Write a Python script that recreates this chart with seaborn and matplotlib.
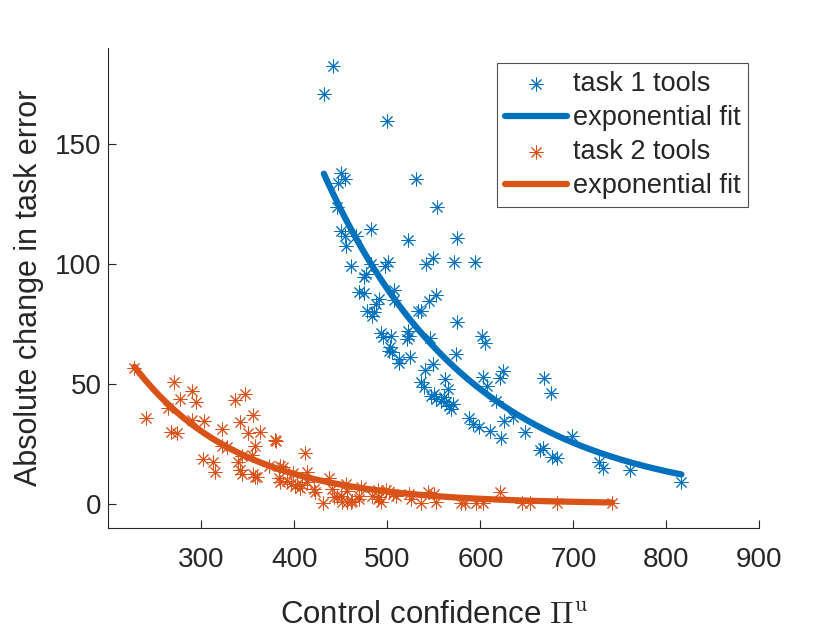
import numpy as np
import pandas as pd
import matplotlib
matplotlib.use("Agg")
import matplotlib.pyplot as plt
import seaborn as sns

# task 1 tools (blue)
task1_conf = [441.4, 431.7, 499.1, 449.7, 454.1, 446.8, 531.1, 553.5, 446.2, 450.5,
              454.1, 482.2, 465.9, 521.8, 575.1, 455.1, 460.5, 476.8, 474.9, 482.2,
              500.2, 497.6, 541.6, 548.9, 571.9, 594.6, 469.5, 474.9, 491.1, 487.6,
              507.4, 507.4, 544.5, 552.4, 536.2, 478.6, 484.0, 485.7, 533.3, 575.1,
              493.0, 495.5, 503.8, 522.5, 521.1, 523.6, 602.2, 605.4, 503.0, 502.0,
              504.9, 546.0, 574.0, 512.8, 512.8, 524.3, 540.9, 549.2, 624.5, 620.9,
              668.4, 676.0, 536.2, 539.1, 562.2, 565.1, 603.2, 607.6, 547.0, 550.6,
              552.4, 557.8, 561.4, 563.2, 566.8, 568.6, 570.5, 617.3, 587.8, 592.1,
              598.2, 610.0, 622.7, 625.2, 635.4, 647.9, 698.4, 663.9, 667.6, 676.8,
              682.2, 727.2, 731.9, 761.4, 816.2]
task1_err = [182.4, 170.6, 159.7, 137.8, 135.4, 133.8, 135.4, 123.6, 123.6, 113.6,
             111.8, 114.6, 111.8, 110.0, 110.8, 107.3, 99.3, 95.8, 94.5, 100.0,
             100.7, 99.0, 100.0, 102.4, 100.8, 100.8, 88.2, 87.9, 85.4, 83.3,
             89.3, 85.0, 84.7, 87.1, 80.4, 80.5, 78.5, 79.9, 80.5, 75.8,
             71.1, 69.5, 70.1, 72.0, 68.8, 70.1, 70.0, 67.1, 65.5, 63.9,
             63.2, 69.2, 62.5, 60.4, 58.8, 61.1, 55.8, 58.3, 55.5, 52.4,
             52.4, 46.1, 51.0, 48.6, 52.1, 47.9, 52.9, 49.2, 45.1, 45.8,
             43.8, 43.0, 44.5, 42.4, 41.0, 39.6, 41.7, 43.0, 35.8, 33.3,
             32.0, 30.3, 27.4, 34.7, 36.1, 29.9, 28.2, 22.5, 23.2, 19.7,
             19.0, 17.4, 14.9, 14.3, 9.0]

# task 2 tools (orange)
task2_conf = [228.1, 240.0, 264.1, 267.8, 270.6, 274.3, 276.8, 289.4, 289.4, 293.7,
              301.3, 303.0, 312.8, 314.6, 321.8, 322.5, 327.2, 336.2, 339.8, 341.6,
              341.6, 343.5, 343.5, 347.0, 350.6, 354.3, 355.4, 356.0, 357.8, 357.8,
              359.7, 363.2, 372.2, 379.5, 380.5, 383.0, 385.0, 385.0, 388.0, 392.0,
              396.0, 398.0, 401.0, 403.0, 406.5, 408.3, 413.7, 413.7, 411.0, 420.9,
              422.7, 430.3, 437.1, 440.8, 442.5, 446.2, 449.7, 451.6, 455.1, 457.0,
              457.0, 460.5, 462.4, 469.5, 469.5, 471.4, 484.0, 489.4, 489.4, 491.1,
              493.0, 498.4, 502.0, 505.6, 509.2, 523.6, 525.4, 536.2, 543.5, 550.6,
              552.4, 579.5, 583.0, 595.7, 603.0, 620.9, 644.3, 653.3, 682.2, 741.6]
task2_err = [56.5, 35.7, 39.9, 29.9, 50.7, 29.5, 43.8, 47.0, 35.0, 42.4,
             18.8, 34.7, 17.4, 13.5, 24.3, 31.3, 23.6, 43.3, 17.4, 34.3,
             14.3, 12.5, 20.1, 45.8, 29.6, 20.4, 37.1, 12.5, 24.3, 11.1,
             11.1, 29.9, 16.0, 26.7, 26.4, 11.0, 16.0, 9.0, 15.3, 9.5,
             8.3, 13.0, 7.6, 8.3, 6.5, 7.8, 9.0, 13.3, 21.3, 6.3,
             4.9, 0.5, 10.9, 6.3, 3.0, 2.8, 3.5, 0.7, 8.3, 5.5,
             0.7, 0.7, 1.4, 3.5, 2.1, 7.0, 3.5, 6.0, 2.1, 2.8,
             0.7, 5.8, 4.9, 4.2, 3.5, 4.2, 2.1, 0.2, 5.1, 4.2,
             0.7, 0.4, 0.2, 0.2, 0.4, 5.1, 0.4, 0.2, 0.2, 0.2]

legend_labels = ["task 1 tools", "exponential fit", "task 2 tools", "exponential fit"]
x_ticks = [300, 400, 500, 600, 700, 800, 900]
y_ticks = [0, 50, 100, 150]

blue = "#0072BD"
orange = "#D95319"
ink = "#262626"


def exp_fit(x, y):
    # y = a * exp(b * x), least squares like matlab's 'exp1'
    x = np.asarray(x) / 100.0
    y = np.asarray(y)
    yc = np.clip(y, 0.5, None)
    b, log_a = np.polyfit(x, np.log(yc), 1, w=np.sqrt(yc))
    a = np.exp(log_a)
    for _ in range(100):
        e = np.exp(b * x)
        J = np.column_stack([e, a * x * e])
        step = np.linalg.lstsq(J, y - a * e, rcond=None)[0]
        a += step[0]
        b += step[1]
    return a, b / 100.0


def fit_curve(x, y):
    a, b = exp_fit(x, y)
    xs = np.linspace(min(x), max(x), 200)
    return pd.DataFrame({"conf": xs, "err": a * np.exp(b * xs)})


sns.set_style("ticks")
plt.rcParams["font.family"] = ["Liberation Sans", "DejaVu Sans"]
plt.rcParams["mathtext.fontset"] = "cm"
plt.rcParams["xtick.direction"] = "in"
plt.rcParams["ytick.direction"] = "in"

df1 = pd.DataFrame({"conf": task1_conf, "err": task1_err})
df2 = pd.DataFrame({"conf": task2_conf, "err": task2_err})
fit1 = fit_curve(task1_conf, task1_err)
fit2 = fit_curve(task2_conf, task2_err)

fig = plt.figure(figsize=(8.4, 6.3), dpi=100)
ax = fig.add_axes([0.129, 0.162, 0.775, 0.762])

star = (8, 2, 0)
sns.scatterplot(data=df1, x="conf", y="err", ax=ax, marker=star, s=90,
                color=blue, linewidth=0.7, edgecolor=blue, label=legend_labels[0])
sns.lineplot(data=fit1, x="conf", y="err", ax=ax, color=blue, lw=4.5,
             estimator=None, sort=False, label=legend_labels[1])
sns.scatterplot(data=df2, x="conf", y="err", ax=ax, marker=star, s=90,
                color=orange, linewidth=0.7, edgecolor=orange, label=legend_labels[2])
sns.lineplot(data=fit2, x="conf", y="err", ax=ax, color=orange, lw=4.5,
             estimator=None, sort=False, label=legend_labels[3])

ax.set_xlim(200, 900)
ax.set_ylim(-10, 190)
ax.set_xticks(x_ticks)
ax.set_yticks(y_ticks)
ax.tick_params(labelsize=20, colors=ink, length=6, width=0.8)
ax.tick_params(axis="x", pad=14)
ax.tick_params(axis="y", pad=5)
for side in ["left", "bottom"]:
    ax.spines[side].set_color(ink)
    ax.spines[side].set_linewidth(0.8)
sns.despine(ax=ax)

ax.set_xlabel(r"Control confidence $\Pi^{\mathrm{u}}$", fontsize=22.5, color=ink, labelpad=19)
ax.set_ylabel("Absolute change in task error", fontsize=22, color=ink, labelpad=8)

leg = ax.legend(loc="upper right", bbox_to_anchor=(0.983, 0.969), borderaxespad=0,
                fontsize=19.5, frameon=True, fancybox=False, edgecolor=ink,
                handlelength=2.3, handletextpad=0.2, labelspacing=0.3,
                borderpad=0.3)
leg.get_frame().set_linewidth(0.8)

fig.savefig("out.png", dpi=100)
